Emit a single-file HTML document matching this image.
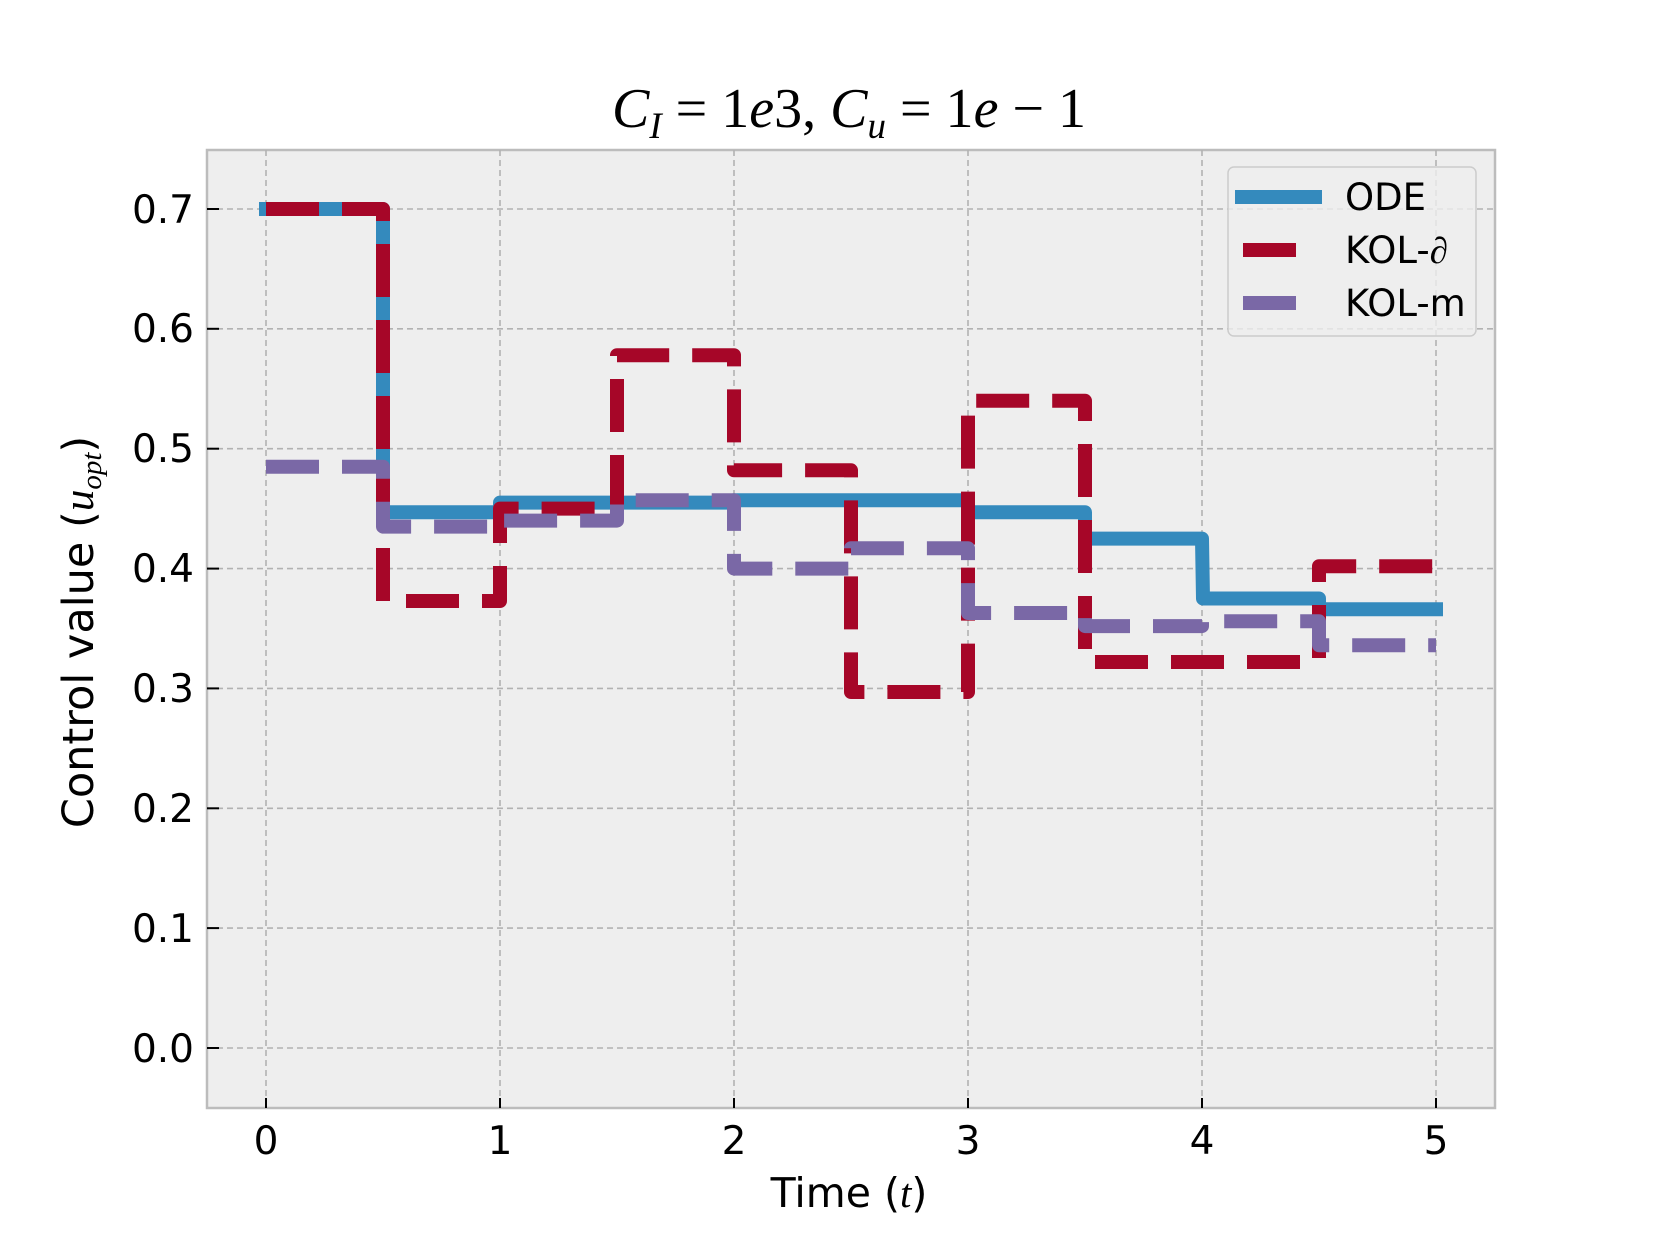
<!DOCTYPE html>
<html><head><meta charset="utf-8"><style>
html,body{margin:0;padding:0;background:#fff;}
svg{display:block;}
.s{font-family:"DejaVu Sans","Liberation Sans",sans-serif;}
.m{font-family:"Liberation Serif","DejaVu Serif",serif;font-style:italic;}
.r{font-family:"Liberation Serif","DejaVu Serif",serif;}
</style></head><body>
<svg width="1660" height="1245" viewBox="0 0 1660 1245" xmlns="http://www.w3.org/2000/svg">
<rect x="0" y="0" width="1660" height="1245" fill="#fff"/>
<rect x="207" y="150" width="1288" height="958" fill="#eeeeee" stroke="#bcbcbc" stroke-width="2.5"/>
<g stroke="#b2b2b2" stroke-width="1.6" stroke-dasharray="6,4">
<line x1="266" y1="150" x2="266" y2="1108"/>
<line x1="500" y1="150" x2="500" y2="1108"/>
<line x1="734" y1="150" x2="734" y2="1108"/>
<line x1="968" y1="150" x2="968" y2="1108"/>
<line x1="1202" y1="150" x2="1202" y2="1108"/>
<line x1="1436" y1="150" x2="1436" y2="1108"/>
<line x1="207" y1="1048" x2="1495" y2="1048"/>
<line x1="207" y1="928.1" x2="1495" y2="928.1"/>
<line x1="207" y1="808.3" x2="1495" y2="808.3"/>
<line x1="207" y1="688.4" x2="1495" y2="688.4"/>
<line x1="207" y1="568.6" x2="1495" y2="568.6"/>
<line x1="207" y1="448.7" x2="1495" y2="448.7"/>
<line x1="207" y1="328.8" x2="1495" y2="328.8"/>
<line x1="207" y1="209" x2="1495" y2="209"/>
</g>
<g stroke="#000" stroke-width="2">
<line x1="266" y1="1108" x2="266" y2="1098"/><line x1="500" y1="1108" x2="500" y2="1098"/>
<line x1="734" y1="1108" x2="734" y2="1098"/><line x1="968" y1="1108" x2="968" y2="1098"/>
<line x1="1202" y1="1108" x2="1202" y2="1098"/><line x1="1436" y1="1108" x2="1436" y2="1098"/>
<line x1="207" y1="1048" x2="219" y2="1048"/><line x1="207" y1="928.1" x2="219" y2="928.1"/>
<line x1="207" y1="808.3" x2="219" y2="808.3"/><line x1="207" y1="688.4" x2="219" y2="688.4"/>
<line x1="207" y1="568.6" x2="219" y2="568.6"/><line x1="207" y1="448.7" x2="219" y2="448.7"/>
<line x1="207" y1="328.8" x2="219" y2="328.8"/><line x1="207" y1="209" x2="219" y2="209"/>
</g>
<g class="s" font-size="39" fill="#000" text-anchor="end">
<text x="194" y="1062">0.0</text><text x="194" y="942">0.1</text>
<text x="194" y="822">0.2</text><text x="194" y="702">0.3</text>
<text x="194" y="582">0.4</text><text x="194" y="462">0.5</text>
<text x="194" y="342">0.6</text><text x="194" y="223">0.7</text>
</g>
<g class="s" font-size="39" fill="#000" text-anchor="middle">
<text x="266" y="1154">0</text><text x="500" y="1154">1</text><text x="734" y="1154">2</text>
<text x="968" y="1154">3</text><text x="1202" y="1154">4</text><text x="1436" y="1154">5</text>
</g>
<text class="s" x="849" y="1207" font-size="41" text-anchor="middle">Time (<tspan class="m">t</tspan>)</text>
<text class="s" transform="translate(93,632) rotate(-90)" font-size="43" text-anchor="middle">Control value (<tspan class="m">u</tspan><tspan class="m" font-size="29" dy="8">opt</tspan><tspan dy="-8">)</tspan></text>
<text class="r" x="849" y="127" font-size="56" text-anchor="middle"><tspan class="m">C</tspan><tspan class="m" font-size="37" dy="11">I</tspan><tspan dy="-11"> = 1</tspan><tspan class="m">e</tspan>3,  <tspan class="m">C</tspan><tspan class="m" font-size="37" dy="11">u</tspan><tspan dy="-11"> = 1</tspan><tspan class="m">e</tspan> − 1</text>
<g fill="none" stroke-width="14" stroke-linejoin="round" stroke-linecap="butt">
<polyline stroke="#348abd" points="259,209 383,209 383,512.2 500,512.2 500,502.6 734,502.6 734,500.2 851,500.2 851,500.2 968,500.2 968,512.2 1085,512.2 1085,538.6 1202,538.6 1203,598.5 1319,598.5 1319,609.3 1443,609.3"/>
<polyline stroke="#a60628" stroke-dasharray="53,23" points="266,209 383,209 383,601 500,601 500,508.6 617,508.6 617,355.2 734,355.2 734,470.3 851,470.3 851,692 968,692 968,400.8 1085,400.8 1085,662 1319,662 1319,566.2 1436,566.2"/>
<polyline stroke="#7a68a6" stroke-dasharray="53,23" points="266,466.7 383,466.7 383,526.6 500,526.6 500,520.6 617,520.6 617,500.2 734,500.2 734,568.6 851,568.6 851,548.2 968,548.2 968,613 1085,613 1085,626.1 1202,626.1 1202,621.3 1319,621.3 1319,645.3 1436,645.3"/>
</g>
<rect x="1228" y="167" width="248" height="169" rx="6" fill="#eeeeee" fill-opacity="0.8" stroke="#cccccc" stroke-width="1.5"/>
<line x1="1235" y1="197" x2="1322" y2="197" stroke="#348abd" stroke-width="14"/>
<line x1="1243" y1="250" x2="1296" y2="250" stroke="#a60628" stroke-width="14"/>
<line x1="1243" y1="303" x2="1296" y2="303" stroke="#7a68a6" stroke-width="14"/>
<g class="s" font-size="37" fill="#000">
<text x="1345" y="210">ODE</text>
<text x="1345" y="263">KOL-<tspan class="m">∂</tspan></text>
<text x="1345" y="316">KOL-m</text>
</g>
</svg>
</body></html>
